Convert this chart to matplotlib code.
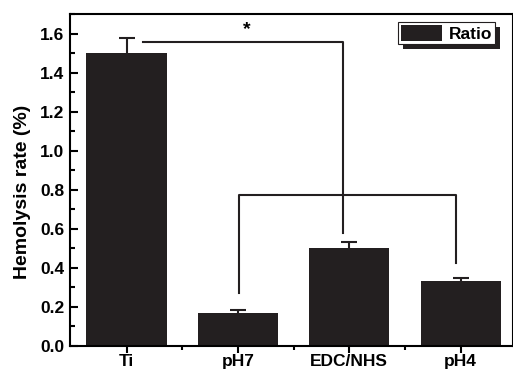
import matplotlib
matplotlib.use("Agg")
import matplotlib.pyplot as plt
from matplotlib.patches import Rectangle
from matplotlib.ticker import MultipleLocator, FixedLocator, FormatStrFormatter

# data
groups = ["Ti", "pH7", "EDC/NHS", "pH4"]
hemolysis = [1.50, 0.168, 0.50, 0.335]
err_up = [0.078, 0.017, 0.035, 0.013]

# significance brackets (x in category units, y in data units)
sig1_x = [0.15, 1.94, 1.94]
sig1_y = [1.555, 1.555, 0.58]
sig2_x = [1.01, 1.01, 2.96, 2.96]
sig2_y = [0.272, 0.775, 0.775, 0.426]

plt.rcParams["font.family"] = ["Liberation Sans", "DejaVu Sans"]
plt.rcParams["font.weight"] = "bold"
BAR = "#231f20"

fig = plt.figure(figsize=(5.13, 3.72), dpi=100)
ax = fig.add_axes([0.136, 0.070, 0.864, 0.892])

x = list(range(len(groups)))
ax.bar(x, hemolysis, width=0.72, color=BAR, label="Ratio", zorder=2)
_, caps, _ = ax.errorbar(x, hemolysis, yerr=[[0] * len(x), err_up], fmt="none",
                         ecolor=BAR, elinewidth=1.5, capsize=6, capthick=1.5, zorder=3)
caps[0].set_visible(False)  # only the upper cap

ax.plot(sig1_x, sig1_y, color=BAR, lw=1.5, zorder=1)
ax.plot(sig2_x, sig2_y, color=BAR, lw=1.5, zorder=1)
ax.text(1.08, 1.575, "*", ha="center", va="bottom", fontsize=14, fontweight="bold")

ax.set_xlim(-0.51, 3.47)
ax.set_ylim(0, 1.7)
ax.set_xticks(x)
ax.set_xticklabels(groups, fontsize=12.5, fontweight="bold")
ax.xaxis.set_minor_locator(FixedLocator([0.5, 1.5, 2.5]))
ax.yaxis.set_major_locator(MultipleLocator(0.2))
ax.yaxis.set_minor_locator(MultipleLocator(0.1))
ax.yaxis.set_major_formatter(FormatStrFormatter("%.1f"))

ax.tick_params(axis="y", which="major", direction="in", length=6, width=1.5, labelsize=12.5, pad=4)
ax.tick_params(axis="y", which="minor", direction="in", length=3.5, width=1.5)
ax.tick_params(axis="x", which="major", direction="out", length=5, width=1.5, labelsize=12.5, pad=0.5)
ax.tick_params(axis="x", which="minor", direction="out", length=3, width=1.5)
for lab in ax.get_yticklabels() + ax.get_xticklabels():
    lab.set_fontweight("bold")
for s in ax.spines.values():
    s.set_linewidth(1.5)

ax.set_ylabel("Hemolysis rate (%)", fontsize=14, fontweight="bold")
ax.yaxis.set_label_coords(-0.088, 0.465)

leg = ax.legend(loc="upper right", bbox_to_anchor=(0.96, 0.975), fontsize=12.5,
                frameon=True, fancybox=False, shadow=False, framealpha=1.0,
                borderpad=0.15, handlelength=2.4, handleheight=1.0, handletextpad=0.4,
                borderaxespad=0.0)
leg.get_frame().set_edgecolor(BAR)
leg.get_frame().set_linewidth(0.8)
leg.set_zorder(6)
for t in leg.get_texts():
    t.set_fontweight("bold")

# solid drop shadow behind the legend box
fig.canvas.draw()
bb = leg.get_window_extent().transformed(fig.transFigure.inverted())
dx, dy = 5 / 513, -5 / 372
shadow = Rectangle((bb.x0 + dx, bb.y0 + dy), bb.width, bb.height,
                   transform=fig.transFigure, facecolor=BAR, edgecolor="none",
                   zorder=5, clip_on=False)
ax.add_artist(shadow)

fig.savefig("out.png", dpi=100)
